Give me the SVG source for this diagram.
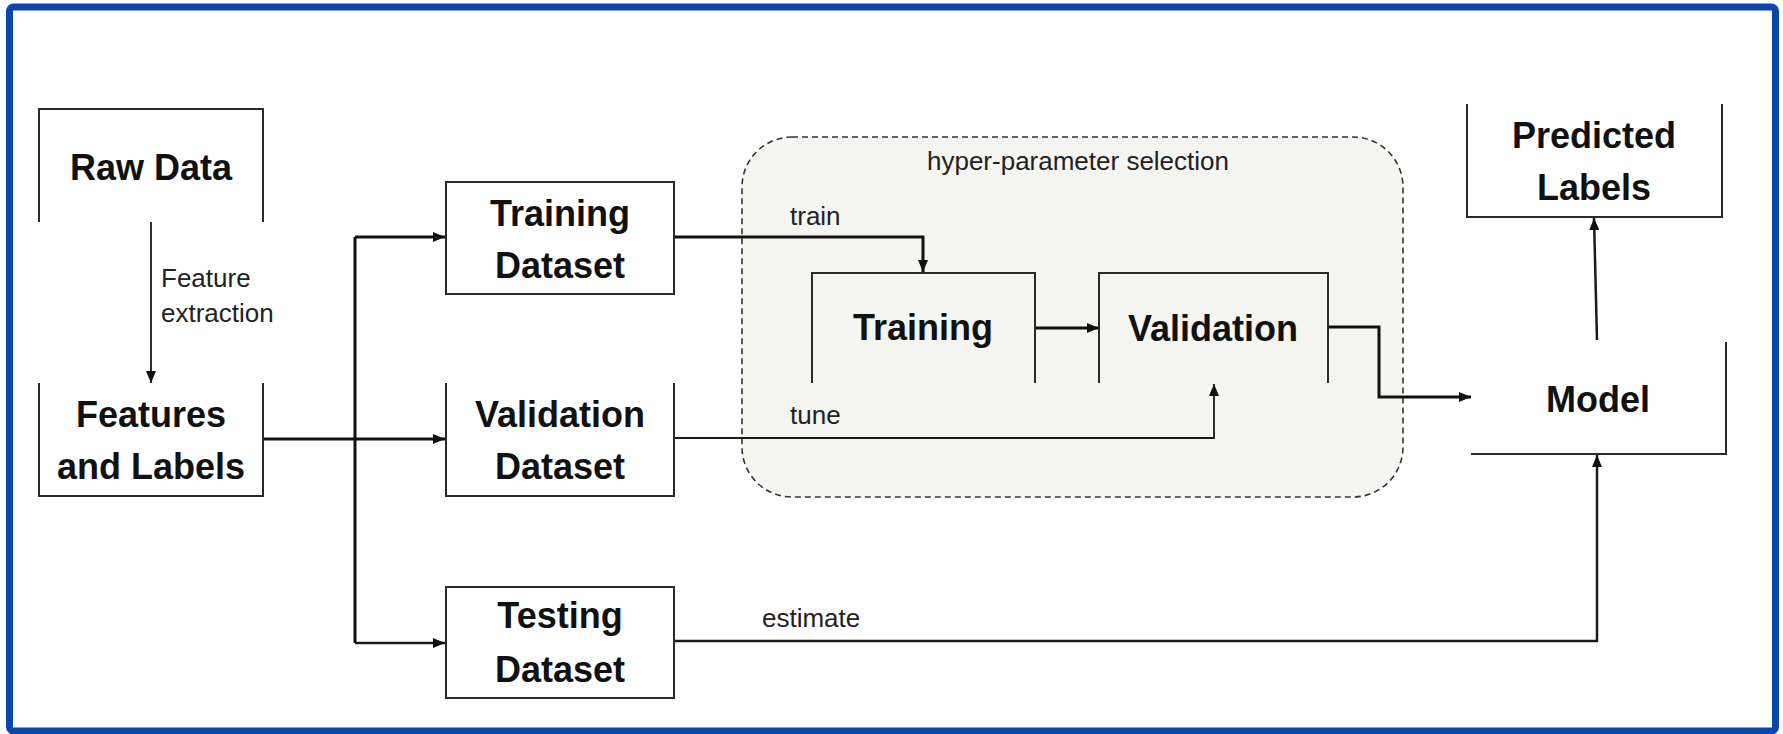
<svg xmlns="http://www.w3.org/2000/svg" width="1783" height="734" viewBox="0 0 1783 734">
<style>
.frame{fill:#ffffff;stroke:#0b46aa;stroke-width:7}
.box{fill:none;stroke:#2a2a2a;stroke-width:2}
.boxf{fill:#ffffff;stroke:#2a2a2a;stroke-width:2}
.big{font-family:"Liberation Sans",Arial,sans-serif;font-weight:bold;font-size:36px;fill:#111;text-anchor:middle}
.small{font-family:"Liberation Sans",Arial,sans-serif;font-size:26px;fill:#222}
.thick{fill:none;stroke:#111;stroke-width:3}
.mid{fill:none;stroke:#1a1a1a;stroke-width:2.5}
.thin{fill:none;stroke:#1a1a1a;stroke-width:1.8}
.arr{marker-end:url(#ah)}
.group{fill:#f5f5f2;stroke:#333;stroke-width:1.6;stroke-dasharray:6 4}
</style>
<defs>
<marker id="ah" markerUnits="userSpaceOnUse" markerWidth="12" markerHeight="10" refX="12" refY="5" orient="auto">
<path d="M0,0 L12,5 L0,10 z" fill="#111"/>
</marker>
</defs>
<rect class="frame" x="9.5" y="7" width="1766" height="724" rx="4"/>

<g id="hyper-parameter-selection">
<rect class="group" x="742" y="137" width="661" height="360" rx="50" ry="50"/>
<text class="small" x="1078" y="170" text-anchor="middle">hyper-parameter selection</text>
</g>

<g id="connectors">
<path class="thin arr" d="M151,222 V383"/>
<path class="thick" d="M263,439 H355"/>
<path class="thick arr" d="M355,439 H445"/>
<path class="thick" d="M355,237 V643"/>
<path class="thick arr" d="M355,237 H445"/>
<path class="mid arr" d="M355,643 H445"/>
<path class="thick arr" d="M674,237 H923 V272"/>
<path class="thick arr" d="M1035,328 H1099"/>
<path class="thick arr" d="M1328,327 H1379 V397 H1471"/>
<path class="thin arr" d="M674,438 H1214 V384"/>
<path class="mid arr" d="M674,641 H1597 V455"/>
<path class="mid arr" d="M1597,340 L1594,218"/>
<text class="small" x="161" y="287">Feature</text>
<text class="small" x="161" y="322">extraction</text>
<text class="small" x="790" y="225">train</text>
<text class="small" x="790" y="424">tune</text>
<text class="small" x="762" y="627">estimate</text>
</g>

<g id="raw-data">
<path class="box" d="M39,222 V109 H263 V222"/>
<text class="big" x="151" y="180">Raw Data</text>
</g>

<g id="features-labels">
<path class="box" d="M39,383 V496 H263 V383"/>
<text class="big" x="151" y="427">Features</text>
<text class="big" x="151" y="479">and Labels</text>
</g>

<g id="training-dataset">
<rect class="boxf" x="446" y="182" width="228" height="112"/>
<text class="big" x="560" y="226">Training</text>
<text class="big" x="560" y="278">Dataset</text>
</g>

<g id="validation-dataset">
<path class="box" d="M446,383 V496 H674 V383"/>
<text class="big" x="560" y="427">Validation</text>
<text class="big" x="560" y="479">Dataset</text>
</g>

<g id="testing-dataset">
<rect class="boxf" x="446" y="587" width="228" height="111"/>
<text class="big" x="560" y="628">Testing</text>
<text class="big" x="560" y="682">Dataset</text>
</g>

<g id="training">
<path class="box" d="M812,383 V273 H1035 V383"/>
<text class="big" x="923" y="340">Training</text>
</g>

<g id="validation">
<path class="box" d="M1099,383 V273 H1328 V383"/>
<text class="big" x="1213" y="341">Validation</text>
</g>

<g id="predicted-labels">
<path class="box" d="M1467,104 V217 H1722 V104"/>
<text class="big" x="1594" y="148">Predicted</text>
<text class="big" x="1594" y="200">Labels</text>
</g>

<g id="model">
<path class="box" d="M1471,454 H1726 V342"/>
<text class="big" x="1598" y="412">Model</text>
</g>
</svg>
